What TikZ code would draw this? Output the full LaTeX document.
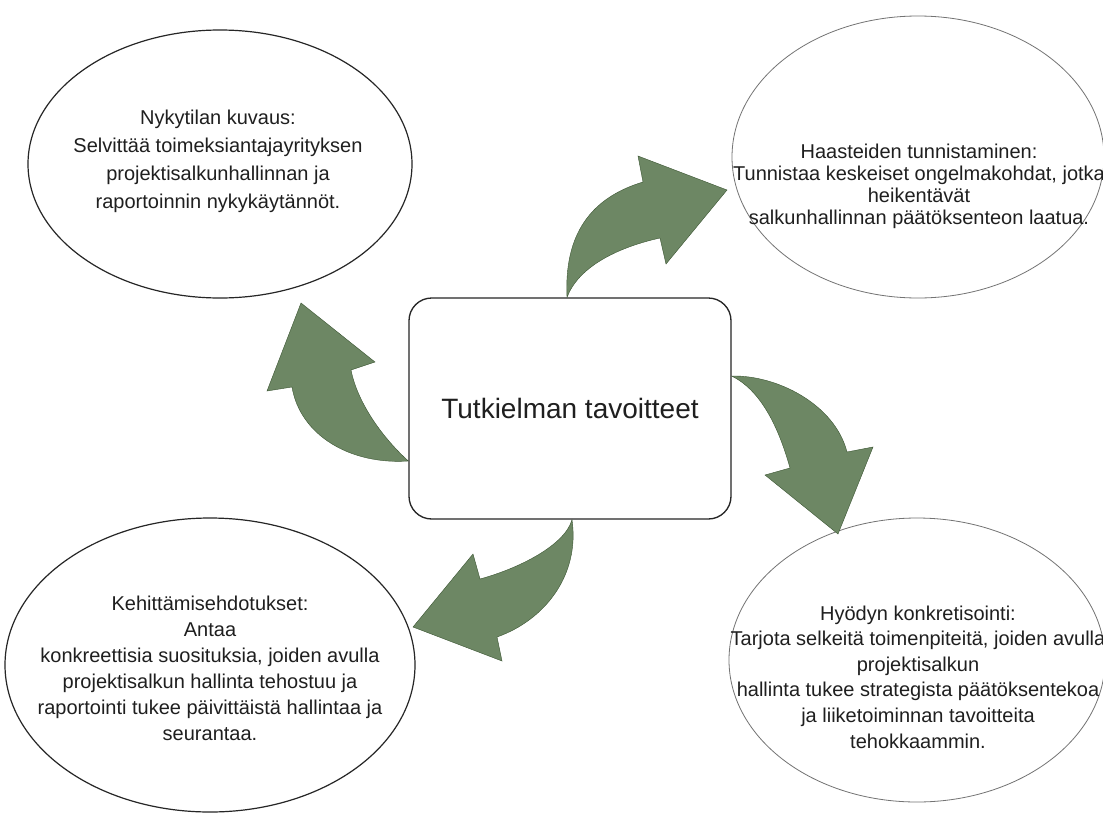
\documentclass[tikz,border=0pt]{standalone}
\usepackage{fontspec}
\setmainfont{Liberation Sans}
\usetikzlibrary{shapes.geometric}
\definecolor{nuolivihrea}{HTML}{6D8764}
\definecolor{nuolireuna}{HTML}{3A5431}

\begin{document}
\begin{tikzpicture}[x=0.75pt,y=-0.75pt,
  kupla/.style={ellipse,draw=black!85,line width=0.9pt,fill=white,inner sep=0pt},
  haalea/.style={draw=black!55,line width=0.6pt},
  teksti/.style={align=center,text=black!88,font=\fontsize{15}{21}\selectfont},
  nuoli/.style={fill=nuolivihrea,draw=nuolireuna,line width=0.3pt}]
  \useasboundingbox (0,0) rectangle (1103,814);
  \clip (0,0) rectangle (1103,814);
  \fill[white] (0,0) rectangle (1103,814);

  % kuplat
  \node[kupla,minimum width=288pt,minimum height=201pt] (nyky) at (220,164) {};
  \node[kupla,haalea,minimum width=279pt,minimum height=211.5pt] (haaste) at (918,157) {};
  \node[kupla,minimum width=307.5pt,minimum height=220.5pt] (kehitys) at (210,665) {};
  \node[kupla,haalea,minimum width=282pt,minimum height=213pt] (hyoty) at (917,660) {};

  \node[teksti] (nykyt) at (218,161)
    {Nykytilan kuvaus:\\ Selvittää toimeksiantajayrityksen\\
     projektisalkunhallinnan ja\\ raportoinnin nykykäytännöt.};
  \node[teksti,font=\fontsize{15}{16.5}\selectfont] (haastet) at (919,186)
    {Haasteiden tunnistaminen:\\ Tunnistaa keskeiset ongelmakohdat, jotka\\
     heikentävät\\ salkunhallinnan päätöksenteon laatua.};
  \node[teksti,font=\fontsize{15}{19.5}\selectfont] (kehityst) at (210,668)
    {Kehittämisehdotukset:\\ Antaa\\ konkreettisia suosituksia, joiden avulla\\
     projektisalkun hallinta tehostuu ja\\ raportointi tukee päivittäistä hallintaa ja\\
     seurantaa.};
  \node[teksti,font=\fontsize{15}{19.2}\selectfont] (hyotyt) at (918,677)
    {Hyödyn konkretisointi:\\ Tarjota selkeitä toimenpiteitä, joiden avulla\\
     projektisalkun\\ hallinta tukee strategista päätöksentekoa\\
     ja liiketoiminnan tavoitteita\\ tehokkaammin.};

  % keskus
  \node[draw=black!85,line width=1pt,rounded corners=17pt,fill=white,text=black!88,
        minimum width=241.5pt,minimum height=165.75pt,
        font=\fontsize{21}{25}\selectfont] (box) at (570,408.5) {Tutkielman tavoitteet};

  % nuolet
  \coordinate (h1) at (box.north -| 567,0);
  \filldraw[nuoli] (h1) .. controls (564,235) and (590,198) .. (643,182)
    -- (638,156) -- (727,190) -- (666,264) -- (660,238)
    .. controls (615,248) and (578,268) .. (h1) -- cycle;
  \coordinate (h2) at (box.west |- 0,461);
  \filldraw[nuoli] (h2) .. controls (385,440) and (358,405) .. (351,370)
    -- (375,362) -- (301,303) -- (267,391) -- (292,387)
    .. controls (300,435) and (350,465) .. (h2) -- cycle;
  \coordinate (h3) at (box.east |- 0,376);
  \filldraw[nuoli] (h3) .. controls (778,375) and (835,405) .. (847,452)
    -- (873,447) -- (838,534) -- (765,475) -- (790,468)
    .. controls (778,425) and (760,390) .. (h3) -- cycle;
  \coordinate (h4) at (box.south -| 572,0);
  \filldraw[nuoli] (h4) .. controls (580,575) and (545,620) .. (497,637)
    -- (502,661) -- (413,627) -- (473,554) -- (480,579)
    .. controls (520,568) and (565,545) .. (h4) -- cycle;
\end{tikzpicture}
\end{document}
